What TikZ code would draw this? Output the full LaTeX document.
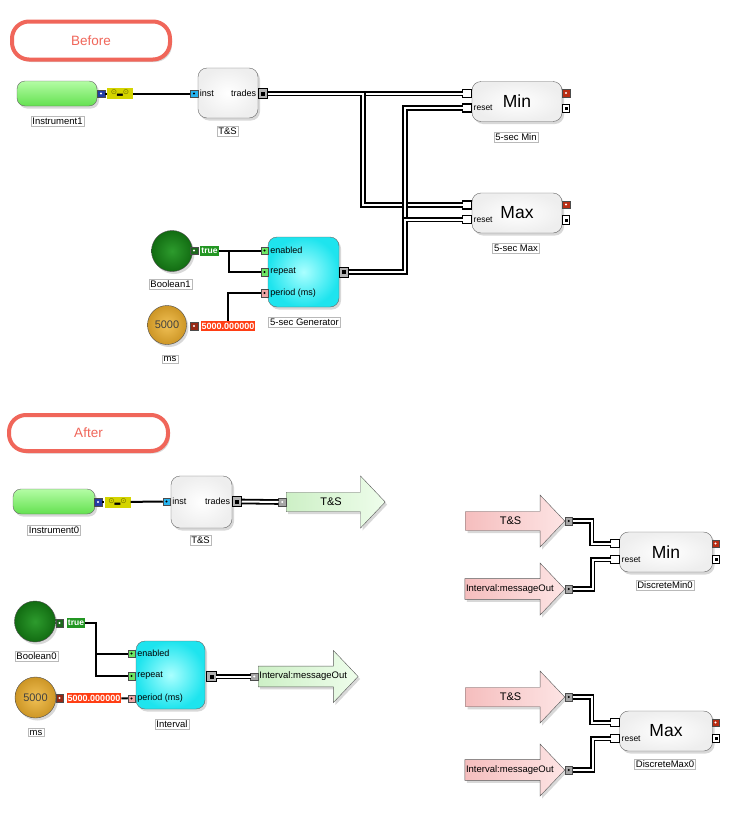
\documentclass[tikz,border=0pt]{standalone}
\usepackage{fontspec}
\setmainfont{Liberation Sans}
\newfontfamily\symfont{DejaVu Sans}
\usetikzlibrary{shapes.arrows,shadows}
\definecolor{titlered}{RGB}{240,102,90}
\definecolor{pillhi}{RGB}{180,252,165}
\definecolor{pilllo}{RGB}{100,225,80}
\definecolor{portblue}{RGB}{35,60,165}
\definecolor{instblue}{RGB}{40,180,240}
\definecolor{feedyellow}{RGB}{212,212,0}
\definecolor{feedolive}{RGB}{110,110,0}
\definecolor{booldark}{RGB}{30,105,30}
\definecolor{truegreen}{RGB}{35,150,35}
\definecolor{pgreen}{RGB}{110,230,100}
\definecolor{ppink}{RGB}{240,165,165}
\definecolor{msdark}{RGB}{150,40,20}
\definecolor{valred}{RGB}{255,62,20}
\definecolor{ballgreenhi}{RGB}{45,155,45}
\definecolor{ballgreenlo}{RGB}{18,108,18}
\definecolor{ballgoldhi}{RGB}{240,192,85}
\definecolor{ballgoldlo}{RGB}{205,150,38}
\definecolor{cyanhi}{RGB}{170,255,255}
\definecolor{cyanlo}{RGB}{30,228,238}
\definecolor{outred}{RGB}{185,45,20}
\definecolor{garrowa}{RGB}{205,240,198}
\definecolor{garrowb}{RGB}{238,253,235}
\definecolor{parrowa}{RGB}{245,190,190}
\definecolor{parrowb}{RGB}{253,228,228}
\tikzset{
  shad/.style={drop shadow={opacity=0.3, shadow xshift=2pt, shadow yshift=-2.5pt}},
  title/.style={draw=titlered, line width=4pt, fill=white, rounded corners=17pt,
                text=titlered, font=\fontsize{13.5}{16}\selectfont,
                minimum width=158pt, minimum height=38pt, shad},
  pill/.style={draw=gray!80!black, rounded corners=8pt, top color=pillhi,
               bottom color=pilllo, minimum width=80pt, minimum height=25pt, shad},
  box/.style={draw=gray!80!black, rounded corners=9pt, inner color=white,
              outer color=gray!13, inner sep=0pt, shad},
  gen/.style={box, inner color=cyanhi, outer color=cyanlo},
  ballnode/.style={circle, draw=gray!60!black, inner color=#1hi, outer color=#1lo,
                   minimum size=41pt, inner sep=0pt, text=black!75,
                   font=\fontsize{11}{12}\selectfont, shad},
  lab/.style={draw=gray!55, fill=white, inner sep=1.5pt,
              font=\fontsize{9.5}{11}\selectfont},
  btxt/.style={inner sep=2pt, font=\fontsize{9}{10}\selectfont},
  big/.style={font=\fontsize{17.5}{19}\selectfont},
  feed/.style={fill=feedyellow, minimum width=26pt, minimum height=11pt,
               inner sep=0pt, font=\symfont\fontsize{7.5}{8}\selectfont},
  tag/.style={fill=#1, text=white, inner sep=1pt, minimum height=10pt,
              font=\bfseries\fontsize{8.5}{9}\selectfont},
  port/.style={draw=black!70, fill=#1, minimum size=7.5pt, inner sep=0pt, outer sep=0pt},
  wdot/.style={path picture={\fill[white] (path picture bounding box.center) circle (1.1pt);}},
  kdot/.style={path picture={\fill[black] (path picture bounding box.center) circle (1.1pt);}},
  ksq/.style={path picture={\fill[black]
      ([shift={(-#1,-#1)}]path picture bounding box.center) rectangle
      ([shift={(#1,#1)}]path picture bounding box.center);}},
  ksq/.default=2pt,
  outport/.style={draw=black, line width=0.9pt, fill=gray!60, minimum width=9.5pt,
                  minimum height=10pt, inner sep=0pt, outer sep=0pt, ksq},
  inport/.style={draw=black, line width=1.2pt, fill=white, minimum width=9pt,
                 minimum height=8pt, inner sep=0pt, outer sep=0pt},
  resport/.style={inport, minimum width=7.5pt, minimum height=8.5pt, ksq=1.5pt},
  garrow/.style={single arrow, draw=gray!70!black, single arrow head extend=8.5pt,
                 single arrow tip angle=93, minimum height=99pt, minimum width=52pt,
                 inner sep=1pt, left color=garrowa, right color=garrowb, shad},
  parrow/.style={garrow, left color=parrowa, right color=parrowb},
  wire/.style={line width=2pt},
  dwire/.style={draw=black, line width=1.8pt, double=white, double distance=2pt},
}

\begin{document}
\begin{tikzpicture}[x=1pt, y=-1pt]
\path[use as bounding box, fill=white] (0,0) rectangle (729,814);

%% Before
\node[title] (before) at (91,40.5) {Before};

% instrument feed and T&S
\node[pill] (inst1) at (57,93.5) {};
\node[port=portblue, wdot] (ip1) at (101,93.5) {};
\node[feed] (feed1) at (120,93.5) {\textcolor{feedolive}{⊙}▂\textcolor{feedolive}{⊙}};
\node[lab] (instlab1) at (57.5,121) {Instrument1};
\node[box, minimum width=60pt, minimum height=50pt] (tsbox1) at (228,93) {};
\node[port=instblue, kdot] (instp1) at (194,93.5) {};
\node[btxt, anchor=west] (instt1) at (instp1.east) {inst};
\node[outport] (trp1) at (263,93.5) {};
\node[btxt, anchor=east] (trt1) at (trp1.west) {trades};
\node[lab] (tslab1) at (227.5,131) {T\&S};

% Min / Max
\foreach \nm/\y/\txt/\lb in {min1/101.5/Min/5-sec Min, max1/213/Max/5-sec Max} {
  \node[box, big, minimum width=90pt, minimum height=40pt] (\nm) at (517,\y) {\txt};
  \node[inport] (\nm-in) at (467,{\y-8}) {};
  \node[inport] (\nm-rst) at (467,{\y+6.5}) {};
  \node[btxt, anchor=west, font=\fontsize{8.5}{9}\selectfont] (\nm-rt) at (\nm-rst.east) {reset};
  \node[port=outred, wdot] (\nm-red) at (566,{\y-8.5}) {};
  \node[resport] (\nm-out) at (566,{\y+7}) {};
  \node[lab] (\nm-lab) at (516,{\y+35.5}) {\lb};
}

% generator
\node[ballnode=ballgreen] (bool1) at (172,251) {};
\node[port=booldark, wdot] (bp1) at (194,250.5) {};
\node[tag=truegreen] (true1) at (209.5,250.5) {true};
\node[lab] (boollab1) at (170.5,284) {Boolean1};
\node[ballnode=ballgold, minimum size=39pt] (ms1) at (167,325) {5000};
\node[port=msdark, wdot] (mp1) at (194,326) {};
\node[tag=valred, font=\bfseries\fontsize{9}{10}\selectfont] (val1) at (228,326) {5000.000000};
\node[lab] (mslab1) at (170,359) {ms};
\node[gen, minimum width=71pt, minimum height=70pt] (gen1) at (303.5,272) {};
\foreach \p/\y/\c/\txt in {en1/250.5/pgreen/enabled, rep1/272/pgreen/repeat, per1/293/ppink/{period (ms)}} {
  \node[port=\c, kdot] (\p) at (264.5,\y) {};
  \node[btxt, anchor=west] (\p-t) at (\p.east) {\txt};
}
\node[outport] (gout1) at (344,272) {};
\node[lab] (genlab1) at (304.5,322) {5-sec Generator};

% wires
\draw[wire] (ip1) -- (feed1);
\draw[wire] (feed1) -- (instp1);
\draw[dwire] (trp1.east) -- (min1-in.west);
\draw[dwire] (trp1.east) -- ++(95,0) |- (max1-in.west);
\draw[dwire] (gout1.east) -- ++(56,0) |- (min1-rst.west);
\draw[dwire] (gout1.east) -- ++(56,0) |- (max1-rst.west);
\draw[wire] (true1) -- (en1);
\draw[wire] (true1.east) -- ++(10,0) |- (rep1.west);
\draw[wire] (val1.north) |- (per1.west);

%% After
\node[title, minimum width=159pt, minimum height=36pt] (after) at (88.5,433) {After};

% instrument feed and T&S
\node[pill, minimum width=82pt] (inst0) at (54,501.5) {};
\node[port=portblue, wdot] (ip0) at (98,502) {};
\node[feed] (feed0) at (117.5,502) {\textcolor{feedolive}{⊙}▂\textcolor{feedolive}{⊙}};
\node[lab] (instlab0) at (54,530) {Instrument0};
\node[box, minimum width=61pt, minimum height=52pt] (tsbox0) at (201.5,502) {};
\node[port=instblue, kdot] (instp0) at (166.5,501.5) {};
\node[btxt, anchor=west] (instt0) at (instp0.east) {inst};
\node[outport] (trp0) at (237,501.5) {};
\node[btxt, anchor=east] (trt0) at (trp0.west) {trades};
\node[lab] (tslab0) at (200.5,540.5) {T\&S};
\node[garrow, anchor=tail, font=\fontsize{11}{12}\selectfont] (tsa0) at (286,502) {T\&S};
\node[port=gray!70, wdot, anchor=east] (tsap0) at (tsa0.tail) {};

% interval
\node[ballnode=ballgreen] (bool0) at (35,621.5) {};
\node[port=booldark, wdot] (bp0) at (59.5,623) {};
\node[tag=truegreen] (true0) at (76,623) {true};
\node[lab] (boollab0) at (36.5,656.5) {Boolean0};
\node[ballnode=ballgold] (ms0) at (35.5,697.5) {5000};
\node[port=msdark, wdot] (mp0) at (59.5,698) {};
\node[tag=valred, font=\bfseries\fontsize{9}{10}\selectfont] (val0) at (94,698) {5000.000000};
\node[lab] (mslab0) at (36,732.5) {ms};
\node[gen, minimum width=69pt, minimum height=68pt] (int0) at (170.5,675) {};
\foreach \p/\y/\c/\txt in {en0/653.5/pgreen/enabled, rep0/676/pgreen/repeat, per0/698.5/ppink/{period (ms)}} {
  \node[port=\c, kdot] (\p) at (131.5,\y) {};
  \node[btxt, anchor=west] (\p-t) at (\p.east) {\txt};
}
\node[outport] (iout0) at (211.5,676.5) {};
\node[lab] (intlab0) at (172,724.5) {Interval};
\node[garrow, anchor=tail, font=\fontsize{9.5}{11}\selectfont] (msga0) at (258,676.5) {Interval:messageOut};
\node[port=gray!70, wdot, anchor=east] (iap0) at (msga0.tail) {};

% wires
\draw[wire] (ip0) -- (feed0);
\draw[wire] (feed0) -- (instp0);
\draw[dwire] (trp0.east) -- (tsap0.west);
\draw[wire] (true0.east) -- ++(11,0) |- (en0.west);
\draw[wire] (true0.east) -- ++(11,0) |- (rep0.west);
\draw[wire] (val0) -- (per0);
\draw[dwire] (iout0.east) -- (iap0.west);

% discrete Min / Max
\foreach \nm/\y/\txt/\lb/\ya/\yb in {dmin/552/Min/DiscreteMin0/521/589, dmax/731/Max/DiscreteMax0/697/770} {
  \node[box, big, minimum width=93pt, minimum height=40pt] (\nm) at (666,\y) {\txt};
  \node[inport] (\nm-in) at (615,{\y-8.5}) {};
  \node[inport] (\nm-rst) at (615,{\y+7.5}) {};
  \node[btxt, anchor=west, font=\fontsize{8.5}{9}\selectfont] (\nm-rt) at (\nm-rst.east) {reset};
  \node[port=outred, wdot] (\nm-red) at (715.5,{\y-8.5}) {};
  \node[resport] (\nm-out) at (716,{\y+7.5}) {};
  \node[lab] (\nm-lab) at (665,{\y+33.5}) {\lb};
  \node[parrow, anchor=tip, font=\fontsize{11}{12}\selectfont] (\nm-ts) at (565,\ya) {T\&S};
  \node[port=gray!70, kdot, anchor=west] (\nm-tsp) at (\nm-ts.tip) {};
  \node[parrow, anchor=tip, font=\fontsize{9.5}{11}\selectfont] (\nm-msg) at (565,\yb) {Interval:messageOut};
  \node[port=gray!70, kdot, anchor=west] (\nm-msgp) at (\nm-msg.tip) {};
  \draw[dwire] (\nm-tsp.east) -- ++(19,0) |- (\nm-in.west);
  \draw[dwire] (\nm-msgp.east) -- ++(20,0) |- (\nm-rst.west);
}

\end{tikzpicture}
\end{document}
